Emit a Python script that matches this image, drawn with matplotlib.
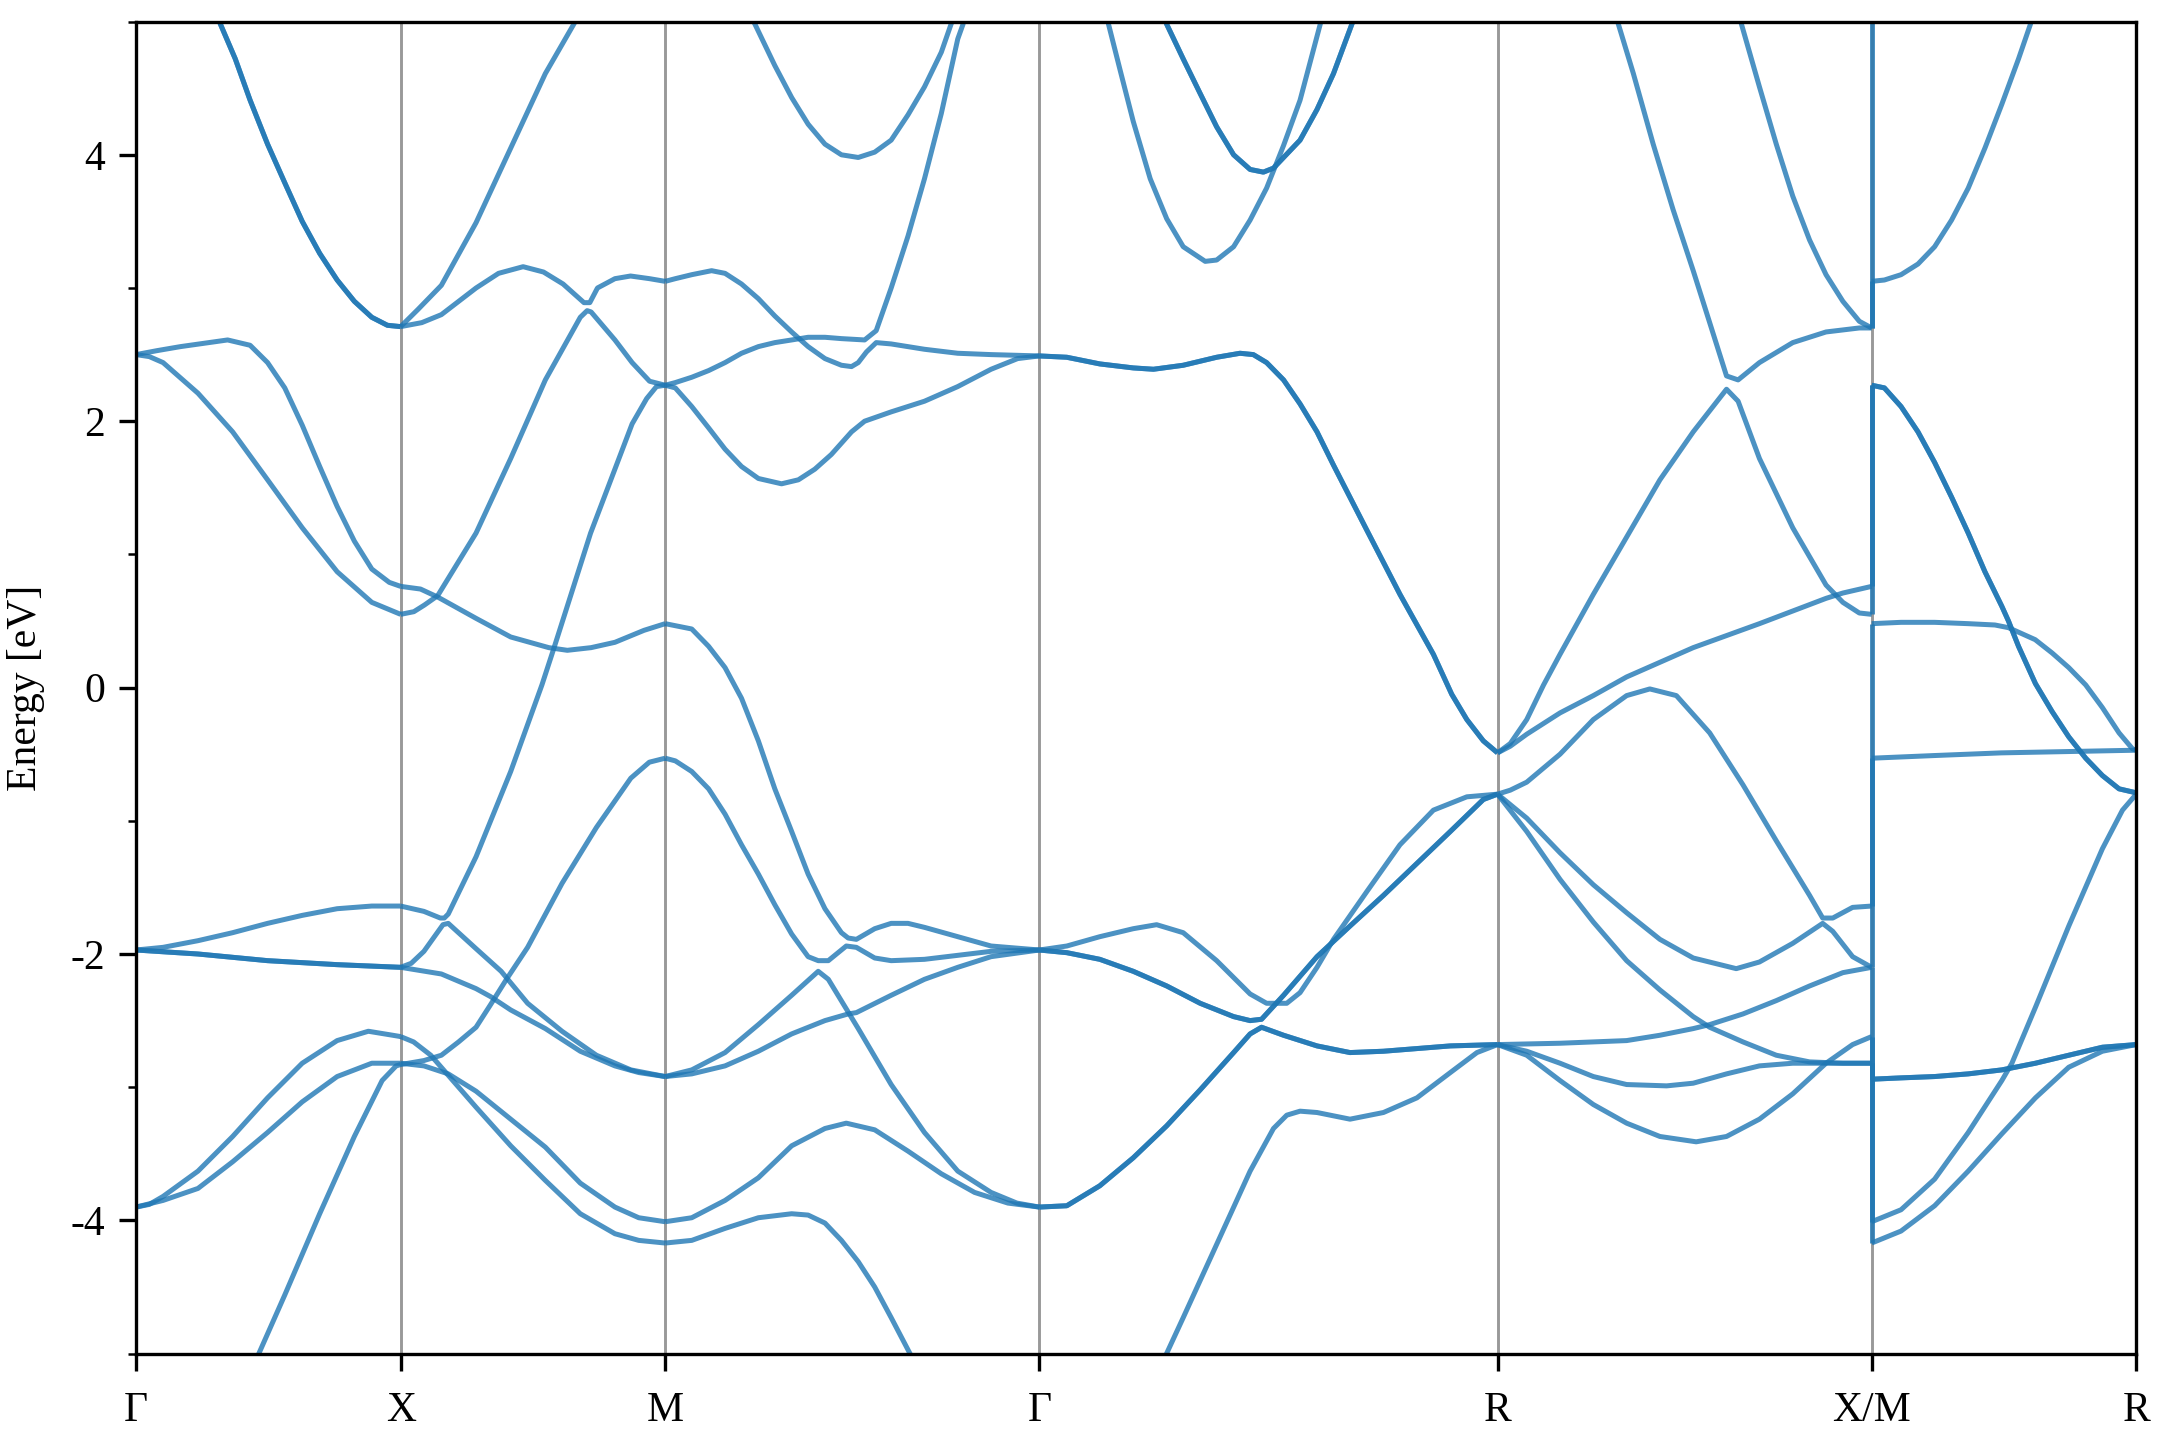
# Band structure along G-X-M-G-R-X|M-R

import numpy as np
import matplotlib.pyplot as plt
from matplotlib.ticker import MultipleLocator

plt.rcParams['font.family'] = ['Liberation Serif', 'DejaVu Serif']
plt.rcParams['axes.unicode_minus'] = False
plt.rcParams['font.size'] = 10

# high symmetry points and segment lengths (units of 2pi/a)
kpoint_labels = ['Γ', 'X', 'M', 'Γ', 'R', 'X/M', 'R']
seg_lengths = [0.5, 0.5, 0.7071, 0.8660, 0.7071, 0.5]

# bands read off each segment: (fraction along segment, energy in eV)
# "double" = two degenerate bands on top of each other

# Gamma -> X
gx_single = [
    [(0, 2.50), (0.08, 2.53), (0.168, 2.56), (0.346, 2.61), (0.431, 2.57), (0.497, 2.44), (0.562, 2.25),
     (0.628, 1.97), (0.694, 1.66), (0.760, 1.36), (0.825, 1.10), (0.891, 0.89), (0.957, 0.79), (1, 0.76)],
    [(0, 2.50), (0.05, 2.485), (0.102, 2.44), (0.234, 2.21), (0.365, 1.92), (0.497, 1.56), (0.628, 1.20),
     (0.760, 0.87), (0.891, 0.64), (1, 0.55)],
    [(0, -1.97), (0.102, -1.95), (0.234, -1.90), (0.365, -1.84), (0.497, -1.77), (0.628, -1.71),
     (0.760, -1.66), (0.891, -1.64), (1, -1.64)],
    [(0, -3.90), (0.05, -3.88), (0.102, -3.82), (0.234, -3.63), (0.365, -3.37), (0.497, -3.08),
     (0.628, -2.82), (0.760, -2.65), (0.878, -2.58), (0.970, -2.61), (1, -2.62)],
    [(0, -3.90), (0.102, -3.85), (0.234, -3.76), (0.365, -3.56), (0.497, -3.34), (0.628, -3.11),
     (0.760, -2.92), (0.891, -2.82), (1, -2.82)],
    [(0.44, -5.12), (0.464, -5.0), (0.562, -4.56), (0.694, -3.95), (0.825, -3.37), (0.930, -2.95),
     (0.983, -2.84), (1, -2.83)],
]
gx_double = [
    [(0.30, 5.08), (0.319, 4.98), (0.375, 4.72), (0.431, 4.41), (0.497, 4.08), (0.562, 3.79), (0.628, 3.50),
     (0.694, 3.26), (0.76, 3.06), (0.825, 2.90), (0.891, 2.78), (0.95, 2.72), (1, 2.71)],
    [(0, -1.97), (0.234, -2.00), (0.497, -2.05), (0.760, -2.08), (1, -2.10)],
]

# X -> M
xm_single = [
    [(0, 2.71), (0.066, 2.84), (0.154, 3.02), (0.285, 3.49), (0.416, 4.05), (0.547, 4.61), (0.66, 5.0), (0.68, 5.08)],
    [(0, 2.71), (0.08, 2.74), (0.154, 2.80), (0.285, 3.0), (0.37, 3.11), (0.463, 3.16), (0.54, 3.12),
     (0.614, 3.03), (0.693, 2.89), (0.715, 2.89), (0.744, 3.0), (0.810, 3.07), (0.869, 3.09), (0.941, 3.07), (1, 3.05)],
    [(0, 0.55), (0.05, 0.57), (0.09, 0.62), (0.14, 0.69), (0.285, 1.16), (0.416, 1.72), (0.547, 2.31),
     (0.679, 2.78), (0.705, 2.83), (0.72, 2.82), (0.81, 2.61), (0.875, 2.44), (0.941, 2.30), (1, 2.27)],
    [(0, 0.76), (0.075, 0.74), (0.14, 0.68), (0.285, 0.52), (0.416, 0.38), (0.56, 0.30), (0.63, 0.28),
     (0.72, 0.30), (0.81, 0.34), (0.92, 0.43), (1, 0.48)],
    [(0, -1.64), (0.088, -1.68), (0.15, -1.73), (0.165, -1.73), (0.18, -1.70), (0.285, -1.27), (0.416, -0.63),
     (0.534, 0.02), (0.58, 0.30), (0.718, 1.16), (0.875, 1.98), (0.93, 2.17), (0.967, 2.26), (1, 2.27)],
    [(0, -2.10), (0.04, -2.07), (0.088, -1.98), (0.16, -1.78), (0.18, -1.77), (0.285, -1.96), (0.38, -2.13),
     (0.405, -2.19), (0.48, -2.37), (0.61, -2.58), (0.74, -2.76), (0.87, -2.87), (1, -2.92)],
    [(0, -2.83), (0.088, -2.80), (0.154, -2.76), (0.219, -2.66), (0.285, -2.55), (0.34, -2.38), (0.40, -2.19),
     (0.48, -1.95), (0.61, -1.47), (0.74, -1.05), (0.87, -0.68), (0.94, -0.56), (1, -0.53)],
    [(0, -2.10), (0.154, -2.15), (0.285, -2.26), (0.34, -2.32), (0.416, -2.42), (0.547, -2.56), (0.679, -2.73),
     (0.81, -2.84), (0.9, -2.89), (1, -2.92)],
    [(0, -2.62), (0.049, -2.66), (0.114, -2.76), (0.206, -2.97), (0.285, -3.15), (0.416, -3.44), (0.547, -3.70),
     (0.679, -3.95), (0.81, -4.10), (0.9, -4.15), (1, -4.17)],
    [(0, -2.82), (0.088, -2.84), (0.18, -2.90), (0.285, -3.03), (0.416, -3.24), (0.547, -3.45), (0.679, -3.72),
     (0.81, -3.90), (0.9, -3.98), (1, -4.01)],
]
xm_double = []

# M -> Gamma
mg_single = [
    [(0.225, 5.06), (0.24, 4.98), (0.293, 4.67), (0.338, 4.43), (0.382, 4.23), (0.427, 4.08), (0.471, 4.0),
     (0.516, 3.98), (0.56, 4.02), (0.604, 4.11), (0.649, 4.30), (0.693, 4.51), (0.738, 4.77), (0.764, 4.98), (0.775, 5.06)],
    [(0, 2.27), (0.027, 2.29), (0.071, 2.33), (0.116, 2.38), (0.16, 2.44), (0.204, 2.51), (0.249, 2.56),
     (0.293, 2.59), (0.338, 2.61), (0.382, 2.63), (0.427, 2.63), (0.471, 2.62), (0.533, 2.61), (0.564, 2.68),
     (0.604, 3.0), (0.649, 3.39), (0.693, 3.82), (0.738, 4.31), (0.782, 4.87), (0.796, 4.98), (0.80, 5.05)],
    [(0, 3.05), (0.027, 3.07), (0.071, 3.10), (0.124, 3.13), (0.16, 3.11), (0.204, 3.03), (0.249, 2.92),
     (0.293, 2.79), (0.338, 2.67), (0.382, 2.56), (0.427, 2.47), (0.471, 2.42), (0.498, 2.41), (0.516, 2.44),
     (0.538, 2.52), (0.564, 2.59), (0.604, 2.58), (0.693, 2.54), (0.782, 2.51), (0.871, 2.50), (1, 2.49)],
    [(0, 2.27), (0.027, 2.25), (0.071, 2.11), (0.116, 1.95), (0.16, 1.79), (0.204, 1.66), (0.249, 1.57),
     (0.311, 1.53), (0.356, 1.56), (0.40, 1.64), (0.444, 1.75), (0.498, 1.92), (0.533, 2.0), (0.604, 2.07),
     (0.693, 2.15), (0.782, 2.26), (0.871, 2.39), (0.942, 2.47), (1, 2.49)],
    [(0, 0.48), (0.071, 0.44), (0.116, 0.31), (0.16, 0.15), (0.204, -0.08), (0.249, -0.40), (0.293, -0.76),
     (0.338, -1.08), (0.382, -1.40), (0.427, -1.66), (0.471, -1.84), (0.489, -1.88), (0.511, -1.89), (0.56, -1.81),
     (0.604, -1.77), (0.649, -1.77), (0.693, -1.80), (0.782, -1.87), (0.871, -1.94), (1, -1.97)],
    [(0, -0.53), (0.027, -0.55), (0.071, -0.63), (0.116, -0.76), (0.16, -0.95), (0.204, -1.18), (0.249, -1.40),
     (0.293, -1.63), (0.338, -1.85), (0.382, -2.02), (0.409, -2.05), (0.436, -2.05), (0.484, -1.94), (0.511, -1.95),
     (0.56, -2.03), (0.604, -2.05), (0.693, -2.04), (0.782, -2.01), (0.871, -1.98), (1, -1.97)],
    [(0, -2.92), (0.071, -2.87), (0.16, -2.74), (0.249, -2.53), (0.338, -2.31), (0.409, -2.13), (0.436, -2.19),
     (0.516, -2.56), (0.604, -2.98), (0.693, -3.34), (0.782, -3.63), (0.871, -3.79), (0.94, -3.87), (1, -3.90)],
    [(0, -2.92), (0.071, -2.90), (0.16, -2.84), (0.249, -2.73), (0.338, -2.60), (0.427, -2.50), (0.489, -2.45),
     (0.511, -2.44), (0.604, -2.31), (0.693, -2.19), (0.782, -2.10), (0.871, -2.02), (1, -1.97)],
    [(0, -4.01), (0.071, -3.98), (0.16, -3.85), (0.249, -3.68), (0.338, -3.44), (0.427, -3.31), (0.484, -3.27),
     (0.56, -3.32), (0.649, -3.48), (0.738, -3.65), (0.827, -3.79), (0.916, -3.87), (1, -3.90)],
    [(0, -4.17), (0.071, -4.15), (0.16, -4.06), (0.249, -3.98), (0.338, -3.95), (0.382, -3.96), (0.427, -4.02),
     (0.471, -4.15), (0.516, -4.31), (0.56, -4.50), (0.604, -4.73), (0.658, -5.02), (0.67, -5.08)],
]
mg_double = []

# Gamma -> R
gr_single = [
    [(0.145, 5.08), (0.151, 4.98), (0.176, 4.64), (0.205, 4.25), (0.242, 3.82), (0.278, 3.52), (0.314, 3.31),
     (0.362, 3.20), (0.387, 3.21), (0.424, 3.31), (0.46, 3.51), (0.496, 3.75), (0.533, 4.07), (0.569, 4.41),
     (0.613, 4.98), (0.62, 5.08)],
    [(0, -1.97), (0.06, -1.94), (0.132, -1.87), (0.205, -1.81), (0.256, -1.78), (0.314, -1.84), (0.387, -2.05),
     (0.46, -2.30), (0.496, -2.37), (0.54, -2.37), (0.569, -2.29), (0.606, -2.10), (0.642, -1.89), (0.715, -1.53),
     (0.787, -1.18), (0.86, -0.92), (0.933, -0.82), (1, -0.80)],
    [(0.265, -5.09), (0.275, -5.02), (0.314, -4.73), (0.387, -4.18), (0.46, -3.63), (0.511, -3.31), (0.54, -3.21),
     (0.569, -3.18), (0.606, -3.19), (0.678, -3.24), (0.751, -3.19), (0.824, -3.08), (0.897, -2.89), (0.955, -2.74),
     (1, -2.68)],
]
gr_double = [
    [(0, 2.49), (0.06, 2.48), (0.132, 2.43), (0.205, 2.40), (0.249, 2.39), (0.314, 2.42), (0.387, 2.48),
     (0.438, 2.51), (0.467, 2.50), (0.496, 2.44), (0.533, 2.31), (0.569, 2.13), (0.606, 1.92), (0.642, 1.67),
     (0.715, 1.18), (0.787, 0.70), (0.86, 0.25), (0.90, -0.05), (0.933, -0.24), (0.969, -0.40), (1, -0.49)],
    [(0.27, 5.05), (0.278, 4.98), (0.314, 4.72), (0.351, 4.46), (0.387, 4.21), (0.424, 4.0), (0.46, 3.89),
     (0.489, 3.87), (0.511, 3.90), (0.569, 4.11), (0.606, 4.34), (0.642, 4.61), (0.682, 4.98), (0.69, 5.05)],
    [(0, -1.97), (0.06, -1.99), (0.132, -2.04), (0.205, -2.13), (0.278, -2.24), (0.351, -2.37), (0.424, -2.47),
     (0.46, -2.50), (0.485, -2.49), (0.533, -2.31), (0.606, -2.02), (0.678, -1.79), (0.751, -1.56), (0.824, -1.32),
     (0.897, -1.08), (0.969, -0.84), (1, -0.80)],
    [(0, -3.90), (0.06, -3.89), (0.132, -3.74), (0.205, -3.53), (0.278, -3.29), (0.351, -3.02), (0.424, -2.74),
     (0.46, -2.60), (0.485, -2.55), (0.533, -2.61), (0.606, -2.69), (0.678, -2.74), (0.751, -2.73), (0.824, -2.71),
     (0.897, -2.69), (1, -2.68)],
]

# R -> X
rx_single = [
    [(0.315, 5.05), (0.323, 4.98), (0.363, 4.61), (0.416, 4.08), (0.469, 3.59), (0.523, 3.13), (0.567, 2.74),
     (0.612, 2.34), (0.643, 2.31), (0.70, 2.44), (0.789, 2.59), (0.878, 2.67), (0.967, 2.70), (1, 2.70)],
    [(0.645, 5.05), (0.652, 4.98), (0.70, 4.51), (0.745, 4.08), (0.789, 3.69), (0.834, 3.36), (0.878, 3.10),
     (0.923, 2.90), (0.967, 2.75), (1, 2.70)],
    [(0, -0.49), (0.034, -0.42), (0.078, -0.24), (0.123, 0.02), (0.167, 0.25), (0.256, 0.70), (0.345, 1.13),
     (0.434, 1.56), (0.523, 1.92), (0.612, 2.24), (0.643, 2.15), (0.70, 1.72), (0.789, 1.20), (0.878, 0.77),
     (0.923, 0.64), (0.967, 0.56), (1, 0.55)],
    [(0, -0.49), (0.034, -0.44), (0.078, -0.35), (0.167, -0.19), (0.256, -0.06), (0.345, 0.08), (0.523, 0.30),
     (0.70, 0.48), (0.878, 0.67), (0.923, 0.71), (1, 0.76)],
    [(0, -0.80), (0.034, -0.77), (0.078, -0.71), (0.167, -0.50), (0.256, -0.24), (0.345, -0.06), (0.407, -0.01),
     (0.478, -0.06), (0.567, -0.34), (0.656, -0.73), (0.745, -1.15), (0.834, -1.56), (0.869, -1.73),
     (0.896, -1.73), (0.949, -1.65), (1, -1.64)],
    [(0, -0.80), (0.078, -0.98), (0.167, -1.24), (0.256, -1.48), (0.345, -1.69), (0.434, -1.89), (0.523, -2.03),
     (0.638, -2.11), (0.70, -2.06), (0.789, -1.92), (0.869, -1.77), (0.896, -1.83), (0.949, -2.02), (1, -2.10)],
    [(0, -0.80), (0.078, -1.08), (0.167, -1.44), (0.256, -1.76), (0.345, -2.05), (0.434, -2.27), (0.523, -2.47),
     (0.567, -2.55), (0.656, -2.66), (0.745, -2.76), (0.834, -2.81), (0.923, -2.82), (1, -2.82)],
    [(0, -2.68), (0.167, -2.67), (0.345, -2.65), (0.434, -2.61), (0.523, -2.56), (0.567, -2.53), (0.656, -2.45),
     (0.745, -2.35), (0.834, -2.24), (0.923, -2.14), (1, -2.10)],
    [(0, -2.68), (0.078, -2.73), (0.167, -2.82), (0.256, -2.92), (0.345, -2.98), (0.452, -2.99), (0.523, -2.97),
     (0.612, -2.90), (0.70, -2.84), (0.789, -2.82), (0.878, -2.82), (1, -2.82)],
    [(0, -2.68), (0.078, -2.76), (0.167, -2.95), (0.256, -3.13), (0.345, -3.27), (0.434, -3.37), (0.531, -3.41),
     (0.612, -3.37), (0.70, -3.24), (0.789, -3.05), (0.878, -2.82), (0.949, -2.68), (1, -2.62)],
]
rx_double = []

# M -> R
mr_single = [
    [(0, 3.05), (0.048, 3.06), (0.111, 3.10), (0.175, 3.18), (0.238, 3.31), (0.302, 3.51), (0.365, 3.75),
     (0.428, 4.05), (0.492, 4.38), (0.555, 4.72), (0.60, 4.98), (0.61, 5.05)],
    [(0, 0.48), (0.111, 0.49), (0.238, 0.49), (0.365, 0.48), (0.466, 0.47), (0.517, 0.45), (0.618, 0.36),
     (0.682, 0.26), (0.745, 0.15), (0.809, 0.02), (0.872, -0.15), (0.935, -0.34), (0.986, -0.46), (1, -0.47)],
    [(0, -0.53), (0.238, -0.51), (0.49, -0.49), (0.745, -0.48), (1, -0.47)],
    [(0, -4.01), (0.111, -3.92), (0.238, -3.69), (0.365, -3.34), (0.492, -2.95), (0.53, -2.82), (0.619, -2.40),
     (0.745, -1.79), (0.872, -1.21), (0.948, -0.92), (1, -0.80)],
    [(0, -4.17), (0.111, -4.08), (0.238, -3.89), (0.365, -3.63), (0.492, -3.35), (0.619, -3.08), (0.745, -2.85),
     (0.872, -2.73), (1, -2.68)],
]
mr_double = [
    [(0, 2.27), (0.048, 2.25), (0.111, 2.11), (0.175, 1.92), (0.238, 1.69), (0.302, 1.43), (0.365, 1.16),
     (0.428, 0.87), (0.492, 0.61), (0.517, 0.50), (0.555, 0.31), (0.619, 0.03), (0.682, -0.18), (0.745, -0.37),
     (0.809, -0.53), (0.872, -0.66), (0.935, -0.76), (1, -0.79)],
    [(0, -2.94), (0.111, -2.93), (0.238, -2.92), (0.365, -2.90), (0.492, -2.87), (0.619, -2.82), (0.745, -2.76),
     (0.872, -2.70), (1, -2.68)],
]

# band energies at X (end of R-X) and M (start of M-R), joined at the X/M break
jump_at_x = [-2.82, -2.82, -2.62, -2.10, -2.10, -1.64, 0.55, 0.76, 2.70, 2.70]
jump_at_m = [-4.17, -4.01, -2.94, -2.94, -0.53, 0.48, 2.27, 2.27, 3.05, 5.2]

segments = [
    (gx_single, gx_double),
    (xm_single, xm_double),
    (mg_single, mg_double),
    (gr_single, gr_double),
    (rx_single, rx_double),
    (mr_single, mr_double),
]

kpos = np.concatenate([[0.0], np.cumsum(seg_lengths)])

band_color = '#1f77b4'
band_kw = dict(color=band_color, lw=1.2, alpha=0.8, solid_capstyle='butt', zorder=2)

fig, ax = plt.subplots(figsize=(7.2, 4.8), dpi=300)

for i, (single, double) in enumerate(segments):
    x0, length = kpos[i], seg_lengths[i]
    for band in single + double + double:
        f, e = np.array(band).T
        ax.plot(x0 + f * length, e, **band_kw)

# vertical jump where the path is broken (X -> M)
for ex, em in zip(jump_at_x, jump_at_m):
    ax.plot([kpos[5], kpos[5]], [ex, em], **band_kw)

for k in kpos[1:-1]:
    ax.axvline(k, color='grey', lw=0.7, alpha=0.8, zorder=1)

ax.set_xlim(kpos[0], kpos[-1])
ax.set_ylim(-5, 5)
ax.set_xticks(kpos)
ax.set_xticklabels(kpoint_labels)
ax.yaxis.set_major_locator(MultipleLocator(2))
ax.yaxis.set_minor_locator(MultipleLocator(1))
ax.tick_params(axis='x', which='major', length=4, pad=5)
ax.tick_params(axis='y', which='major', length=4)
ax.set_ylabel('Energy [eV]', labelpad=6)

fig.subplots_adjust(left=0.063, right=0.989, bottom=0.06, top=0.985)
fig.savefig('out.png', dpi=300)
